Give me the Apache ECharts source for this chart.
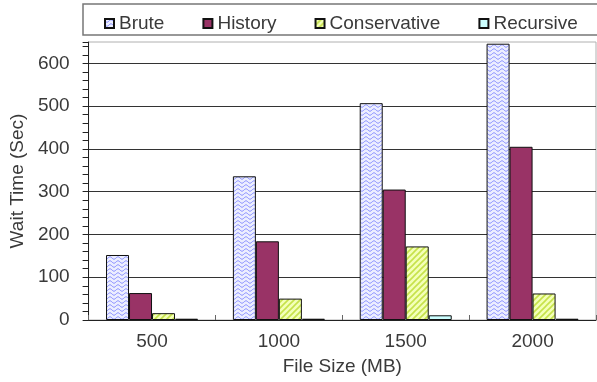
<!DOCTYPE html>
<html>
<head>
<meta charset="utf-8">
<script src="https://cdn.jsdelivr.net/npm/echarts@6/dist/echarts.min.js"></script>
<style>
  html, body { margin: 0; padding: 0; background: #fff; }
  #chart { width: 597px; height: 382px; }
</style>
</head>
<body>
<div id="chart"></div>
<script>
// File sizes (MB) on the x axis
const categories = ['500', '1000', '1500', '2000'];

// Wait time (seconds) per strategy
const brute = [152, 336, 507, 646];
const history = [63, 184, 305, 405];
const conservative = [16, 50, 172, 62];
const recursive = [3, 3, 11, 3];

const seriesNames = ['Brute', 'History', 'Conservative', 'Recursive'];

// Fill patterns for the bars
function wavePattern() {
  const c = document.createElement('canvas');
  c.width = 8; c.height = 4;
  const g = c.getContext('2d');
  g.fillStyle = '#eceeff';
  g.fillRect(0, 0, 8, 4);
  g.strokeStyle = '#8088ff';
  g.lineWidth = 1;
  g.beginPath();
  for (let x = 0; x <= 8; x += 0.5) {
    const y = 2 + 1.2 * Math.sin((x / 8) * Math.PI * 2);
    if (x === 0) g.moveTo(x, y); else g.lineTo(x, y);
  }
  g.stroke();
  return c;
}

function hatchPattern() {
  const c = document.createElement('canvas');
  c.width = 6; c.height = 6;
  const g = c.getContext('2d');
  g.fillStyle = '#f3ffb8';
  g.fillRect(0, 0, 6, 6);
  g.strokeStyle = '#c6e24a';
  g.lineWidth = 1.6;
  g.beginPath();
  g.moveTo(-1, 7); g.lineTo(7, -1);
  g.moveTo(-4, 4); g.lineTo(4, -4);
  g.moveTo(2, 10); g.lineTo(10, 2);
  g.stroke();
  return c;
}

const fills = [
  { image: wavePattern(), repeat: 'repeat' },
  '#993366',
  { image: hatchPattern(), repeat: 'repeat' },
  '#ccffff'
];

const values = [brute, history, conservative, recursive];

const font = 'Liberation Sans, Arial, sans-serif';
const textColor = '#3a3a3a';

const chart = echarts.init(document.getElementById('chart'), null, { renderer: 'canvas' });

chart.setOption({
  animation: false,
  backgroundColor: '#fff',
  graphic: [{
    type: 'rect',
    shape: { x: 83, y: 4, width: 520, height: 31 },
    style: { fill: '#fff', stroke: '#777', lineWidth: 1.5 },
    z: 0
  }],
  legend: {
    data: seriesNames,
    left: 99,
    top: 9,
    icon: 'rect',
    itemWidth: 9,
    itemHeight: 9,
    itemGap: 38,
    textStyle: { fontFamily: font, fontSize: 19, color: textColor },
    z: 5
  },
  grid: {
    left: 82,
    right: 1,
    top: 42,
    bottom: 62,
    show: true,
    borderColor: '#b0b0b0',
    borderWidth: 1
  },
  xAxis: {
    type: 'category',
    data: categories,
    name: 'File Size (MB)',
    nameLocation: 'middle',
    nameGap: 37,
    nameTextStyle: { fontFamily: font, fontSize: 19, color: textColor },
    axisLine: { lineStyle: { color: '#222', width: 1 } },
    axisTick: { show: true, inside: true, length: 5, lineStyle: { color: '#666' } },
    axisLabel: { fontFamily: font, fontSize: 19, color: textColor, margin: 12 }
  },
  yAxis: {
    type: 'value',
    min: 0,
    max: 650,
    interval: 100,
    name: 'Wait Time (Sec)',
    nameLocation: 'middle',
    nameGap: 57,
    nameTextStyle: { fontFamily: font, fontSize: 19, color: textColor },
    axisLine: { show: true, lineStyle: { color: '#222', width: 1 } },
    axisTick: { show: true, length: 6, lineStyle: { color: '#222' } },
    minorTick: { show: true, splitNumber: 5, length: 6, lineStyle: { color: '#222' } },
    axisLabel: { fontFamily: font, fontSize: 19, color: textColor, margin: 19, showMaxLabel: false },
    splitLine: { show: true, showMaxLine: false, lineStyle: { color: '#333', width: 1 } }
  },
  series: seriesNames.map((name, i) => ({
    name: name,
    type: 'bar',
    data: values[i],
    barWidth: 23,
    barGap: '0%',
    itemStyle: { color: fills[i], borderColor: '#111', borderWidth: 1 }
  }))
});
</script>
</body>
</html>
